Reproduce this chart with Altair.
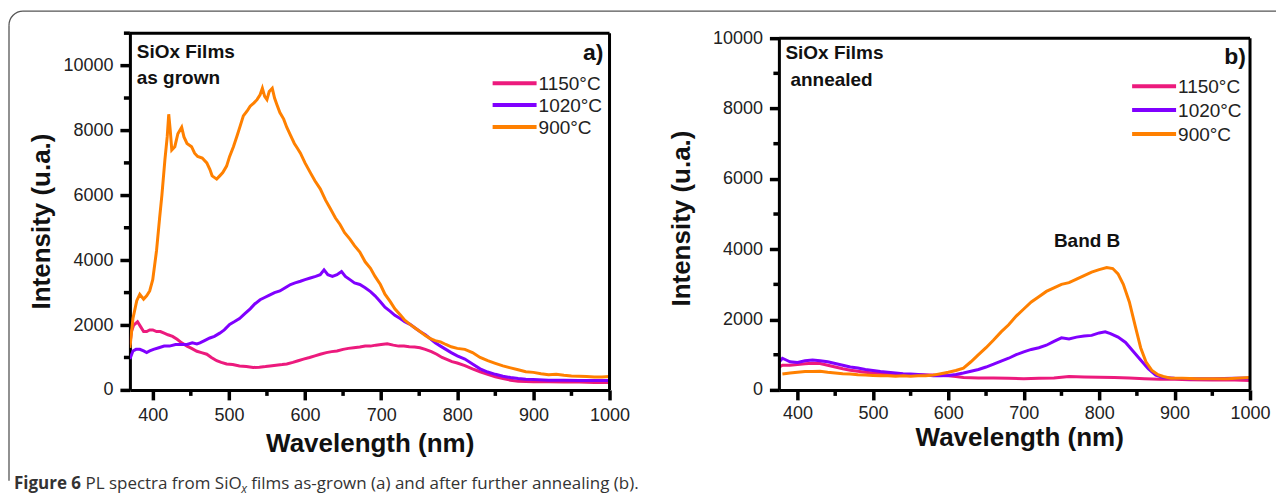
import math
import altair as alt
import pandas as pd

TEMPS = ["1150°C", "1020°C", "900°C"]
COLORS = ["#EC1A7D", "#8000FF", "#FF8000"]
FONT = "Liberation Sans"
X_MAJOR = list(range(400, 1001, 100))
X_MINOR = list(range(450, 1000, 100))
Y_MAJOR_A = list(range(0, 10001, 2000))
Y_MINOR_A = list(range(1000, 11001, 2000))
Y_MAJOR_B = list(range(0, 10001, 2000))
Y_MINOR_B = list(range(1000, 10000, 2000))

# ---------------- panel a) as grown ----------------
a_wl_1150 = [370, 372, 375, 380, 384, 388, 392, 396, 400, 405, 410, 415, 420, 426, 432, 438, 445, 451, 458, 464,
             471, 477, 484, 490, 497, 505, 514, 523, 532, 540, 548, 554, 562, 570, 576, 584, 591, 598, 606, 613,
             620, 628, 635, 642, 650, 657, 664, 672, 679, 686, 693, 700, 708, 716, 723, 730, 737, 744, 751, 758,
             766, 773, 780, 787, 793, 800, 810, 820, 830, 840, 850, 860, 870, 880, 890, 900, 920, 940, 960, 980, 1000]
a_int_1150 = [1400, 1800, 2000, 2100, 1950, 1800, 1800, 1850, 1850, 1800, 1800, 1750, 1700, 1650, 1560, 1450, 1350, 1280, 1190, 1150,
              1100, 1000, 900, 850, 800, 780, 740, 720, 690, 700, 720, 740, 760, 780, 800, 850, 900, 950, 1000, 1050,
              1100, 1150, 1180, 1200, 1250, 1280, 1300, 1320, 1350, 1350, 1380, 1400, 1420, 1380, 1350, 1350, 1330, 1320, 1300, 1250,
              1180, 1100, 1000, 930, 870, 830, 750, 650, 560, 480, 400, 350, 300, 270, 260, 250, 250, 240, 240, 230, 230]

a_wl_1020 = [370, 374, 378, 383, 388, 392, 396, 401, 408, 415, 422, 430, 437, 445, 452, 458, 462, 468, 475, 481,
             488, 494, 501, 507, 514, 521, 528, 534, 541, 547, 554, 560, 567, 574, 581, 587, 594, 600, 607, 614,
             620, 625, 630, 636, 642, 648, 653, 659, 665, 672, 679, 686, 692, 699, 705, 712, 718, 725, 731, 738,
             745, 751, 758, 764, 771, 778, 785, 792, 800, 810, 820, 830, 840, 850, 860, 870, 880, 890, 900, 920,
             940, 960, 980, 1000]
a_int_1020 = [950, 1200, 1250, 1250, 1200, 1150, 1200, 1250, 1300, 1350, 1350, 1400, 1400, 1400, 1450, 1420, 1450, 1520, 1600, 1650,
              1750, 1850, 2020, 2100, 2200, 2350, 2500, 2650, 2780, 2850, 2930, 3000, 3050, 3150, 3250, 3300, 3350, 3400, 3450, 3500,
              3550, 3700, 3550, 3500, 3550, 3650, 3500, 3400, 3300, 3250, 3150, 3030, 2900, 2720, 2550, 2420, 2300, 2200, 2100, 2020,
              1900, 1800, 1700, 1590, 1450, 1350, 1250, 1150, 1050, 950, 800, 650, 550, 480, 420, 380, 350, 330, 320, 300,
              300, 290, 290, 290]

a_wl_900 = [370, 374, 379, 383, 388, 392, 396, 400, 405, 409, 412, 416, 419, 421, 423, 425, 429, 433, 438, 441,
            445, 451, 455, 459, 465, 471, 475, 478, 484, 488, 492, 497, 501, 506, 511, 515, 519, 524, 528, 533,
            537, 541, 544, 547, 550, 553, 557, 560, 563, 567, 572, 576, 581, 586, 590, 594, 600, 607, 613, 620,
            627, 633, 640, 646, 652, 659, 665, 672, 679, 686, 692, 699, 705, 712, 718, 725, 731, 738, 745, 751,
            758, 764, 771, 778, 785, 792, 800, 810, 820, 830, 840, 850, 860, 870, 880, 890, 900, 910, 920, 930,
            940, 950, 960, 970, 980, 990, 1000]
a_int_900 = [1300, 2200, 2750, 2950, 2800, 2900, 3050, 3400, 4300, 5300, 6000, 7100, 7800, 8500, 8000, 7400, 7500, 7900, 8100, 7800,
             7600, 7500, 7300, 7200, 7150, 7000, 6800, 6600, 6500, 6600, 6700, 6900, 7200, 7500, 7850, 8150, 8450, 8600, 8750, 8850,
             8950, 9100, 9300, 9050, 8950, 9200, 9300, 9000, 8800, 8550, 8350, 8100, 7850, 7600, 7450, 7300, 7000, 6700, 6450, 6200,
             5850, 5600, 5300, 5100, 4850, 4650, 4450, 4250, 3950, 3750, 3500, 3250, 2950, 2720, 2500, 2320, 2150, 2020, 1900, 1800,
             1680, 1590, 1520, 1480, 1400, 1330, 1280, 1250, 1150, 1000, 900, 820, 740, 680, 620, 560, 540, 500, 470, 480,
             450, 430, 420, 410, 400, 400, 410]

# ---------------- panel b) annealed ----------------
b_wl_1150 = [376, 380, 390, 400, 410, 420, 430, 440, 450, 460, 470, 480, 490, 500, 520, 540, 560, 580, 600, 610,
             620, 640, 660, 680, 700, 720, 740, 760, 780, 800, 820, 840, 860, 880, 900, 920, 950, 980, 1000]
b_int_1150 = [650, 700, 700, 720, 740, 760, 750, 700, 650, 600, 560, 530, 500, 480, 460, 440, 430, 420, 400, 380,
              350, 340, 340, 330, 320, 330, 340, 380, 370, 360, 350, 340, 320, 300, 300, 290, 280, 280, 270]

b_wl_1020 = [376, 380, 385, 390, 400, 410, 420, 430, 440, 450, 460, 470, 480, 490, 500, 510, 520, 530, 540, 550,
             560, 570, 580, 590, 600, 610, 620, 630, 640, 650, 660, 670, 680, 690, 700, 710, 720, 730, 740, 750,
             760, 770, 780, 790, 800, 808, 815, 825, 835, 845, 855, 865, 875, 885, 900, 920, 950, 980, 1000]
b_int_1020 = [800, 900, 850, 800, 780, 830, 850, 830, 800, 750, 700, 650, 620, 580, 550, 520, 500, 480, 460, 450,
              440, 420, 400, 400, 410, 440, 480, 530, 580, 650, 730, 820, 900, 1000, 1080, 1150, 1200, 1270, 1380, 1480,
              1450, 1500, 1530, 1550, 1620, 1650, 1600, 1500, 1350, 1100, 850, 600, 420, 350, 330, 320, 320, 330, 340]

b_wl_900 = [380, 390, 400, 410, 420, 430, 440, 450, 460, 470, 480, 490, 500, 510, 520, 530, 540, 550, 560, 570,
            580, 590, 600, 610, 620, 630, 640, 650, 660, 670, 680, 690, 700, 710, 720, 730, 740, 750, 760, 770,
            780, 790, 800, 810, 818, 825, 832, 840, 848, 855, 862, 870, 878, 885, 895, 910, 930, 950, 970, 1000]
b_int_900 = [450, 480, 500, 520, 520, 530, 500, 480, 460, 450, 430, 420, 410, 400, 400, 390, 400, 390, 400, 400,
             420, 460, 500, 550, 620, 800, 1000, 1200, 1420, 1650, 1850, 2100, 2300, 2500, 2650, 2800, 2900, 3000, 3050, 3150,
             3250, 3350, 3420, 3480, 3450, 3300, 3000, 2500, 1800, 1200, 800, 550, 430, 380, 330, 330, 320, 320, 320, 350]


def long_df(wls, vals):
    rows = []
    for t, w, v in zip(TEMPS, wls, vals):
        rows += [{"wl": a, "intensity": b, "temp": t} for a, b in zip(w, v)]
    return pd.DataFrame(rows)


df_a = long_df([a_wl_1150, a_wl_1020, a_wl_900], [a_int_1150, a_int_1020, a_int_900])
df_b = long_df([b_wl_1150, b_wl_1020, b_wl_900], [b_int_1150, b_int_1020, b_int_900])

COLOR = alt.Color("temp:N", scale=alt.Scale(domain=TEMPS, range=COLORS), legend=None)
ONE = pd.DataFrame({"k": [0]})

AX = dict(domainColor="black", domainWidth=3, ticks=True, tickColor="black", tickWidth=3.5, tickSize=10,
          labelFont=FONT, labelFontSize=18, labelColor="#222", titleFont=FONT,
          titleFontSize=26, titleFontWeight="bold", titleColor="#111", grid=False,
          labelOverlap=False, labelFlush=False, format="d")


def x_axis(title_y, label_pad):
    return alt.Axis(values=X_MAJOR, labelPadding=label_pad, title="Wavelength (nm)", titleX=240,
                    titleY=title_y, titleAlign="center", titleBaseline="middle", titleAngle=0, **AX)


def y_axis(ticks, title_x, title_y, domain=True):
    return alt.Axis(values=ticks, labelPadding=7, title="Intensity (u.a.)", titleX=title_x,
                    titleY=title_y, titleAngle=270, titleAlign="center", titleBaseline="middle",
                    domain=domain, **AX)


def minor_ticks(xvals, yvals, xs, ys, height):
    tx = alt.Chart(pd.DataFrame({"t": xvals})).mark_rule(color="black", strokeWidth=3.5).encode(
        x=alt.X("t:Q", scale=xs), y=alt.value(height), y2=alt.value(height + 6))
    ty = alt.Chart(pd.DataFrame({"t": yvals})).mark_rule(color="black", strokeWidth=3.5).encode(
        y=alt.Y("t:Q", scale=ys), x=alt.value(0), x2=alt.value(-6))
    return [tx, ty]


def note(text, x, y, size=19, align="left", weight="bold"):
    return alt.Chart(ONE).mark_text(
        text=text, align=align, baseline="alphabetic", font=FONT, fontSize=size,
        fontWeight=weight, color="#111").encode(x=alt.datum(x), y=alt.datum(y))


def legend_layers(x0, y0, step):
    out = []
    for i, (t, c) in enumerate(zip(TEMPS, COLORS)):
        yy = y0 + i * step
        out.append(alt.Chart(ONE).mark_rule(color=c, strokeWidth=4).encode(
            x=alt.value(x0), x2=alt.value(x0 + 44), y=alt.value(yy)))
        out.append(alt.Chart(ONE).mark_text(
            text=t, align="left", baseline="middle", font=FONT, fontSize=19, color="#222").encode(
            x=alt.value(x0 + 46), y=alt.value(yy + 1)))
    return out


def frame_layer(x0, x1, ytop, xs, ys, left=False):
    rows = [{"x": x0, "x2": x1, "y": ytop, "y2": ytop}, {"x": x1, "x2": x1, "y": 0, "y2": ytop}]
    if left:
        rows.append({"x": x0, "x2": x0, "y": 0, "y2": ytop})
    return alt.Chart(pd.DataFrame(rows)).mark_rule(color="black", strokeWidth=3).encode(
        x=alt.X("x:Q", scale=xs), x2="x2:Q", y=alt.Y("y:Q", scale=ys), y2="y2:Q")


# ---------- left panel ----------
XS_A = alt.Scale(domain=[370, 1000], nice=False, zero=False)
YS_A = alt.Scale(domain=[0, 11000], nice=False)

lines_a = alt.Chart(df_a).mark_line(strokeWidth=3, clip=True).encode(
    x=alt.X("wl:Q", scale=XS_A, axis=x_axis(54, 7)),
    y=alt.Y("intensity:Q", scale=YS_A, axis=y_axis(Y_MAJOR_A, -88, 188)),
    color=COLOR, order=alt.Order("wl:Q"))

BC = "#555555"
R = 14
BX, BY = -121, -22
border = [
    alt.Chart(ONE).mark_rule(color=BC, strokeWidth=1.3).encode(
        x=alt.value(BX + R), x2=alt.value(1147), y=alt.value(BY)),
    alt.Chart(ONE).mark_rule(color=BC, strokeWidth=1.3).encode(
        x=alt.value(BX), y=alt.value(BY + R), y2=alt.value(448)),
    alt.Chart(ONE).mark_arc(
        innerRadius=R - 0.65, outerRadius=R + 0.65, theta=1.5 * math.pi, theta2=2 * math.pi,
        color=BC).encode(x=alt.value(BX + R), y=alt.value(BY + R)),
]

CAP_Y = 451
CF = "Open Sans"
CS = 17
caption = [
    alt.Chart(ONE).mark_text(
        text="Figure 6", align="left", baseline="middle", font=CF, fontSize=CS,
        fontWeight="bold", color="#333").encode(x=alt.value(-116), y=alt.value(CAP_Y)),
    alt.Chart(ONE).mark_text(
        text="PL spectra from SiO", align="left", baseline="middle", font=CF, fontSize=CS,
        color="#333").encode(x=alt.value(-44.5), y=alt.value(CAP_Y)),
    alt.Chart(ONE).mark_text(
        text="x", align="left", baseline="middle", font=CF, fontSize=12, fontStyle="italic",
        color="#333").encode(x=alt.value(111.5), y=alt.value(CAP_Y + 5)),
    alt.Chart(ONE).mark_text(
        text="films as-grown (a) and after further annealing (b).", align="left", baseline="middle",
        font=CF, fontSize=CS, color="#333").encode(x=alt.value(121.5), y=alt.value(CAP_Y)),
]

left = alt.layer(
    lines_a,
    *minor_ticks(X_MINOR, Y_MINOR_A, XS_A, YS_A, 357),
    frame_layer(370, 1000, 11000, XS_A, YS_A),
    note("SiOx Films", 379, 10231, 19),
    note("as grown", 379, 9430, 19),
    note("a)", 992, 10170, 23, align="right"),
    *legend_layers(363, 50, 22),
    *border,
    *caption,
).properties(width=480, height=357)

# ---------- right panel ----------
XS_B = alt.Scale(domain=[376, 1000], nice=False, zero=False)
YS_B = alt.Scale(domain=[0, 10142], nice=False)

lines_b = alt.Chart(df_b).mark_line(strokeWidth=3, clip=True).encode(
    x=alt.X("wl:Q", scale=XS_B, axis=x_axis(48, 5)),
    y=alt.Y("intensity:Q", scale=YS_B, axis=y_axis(Y_MAJOR_B, -98, 185, domain=False)),
    color=COLOR, order=alt.Order("wl:Q"))

right = alt.layer(
    lines_b,
    *minor_ticks(X_MINOR, Y_MINOR_B, XS_B, YS_B, 357),
    frame_layer(376, 1000, 10000, XS_B, YS_B, left=True),
    note("SiOx Films", 384, 9403, 19),
    note("annealed", 390.6, 8636, 19),
    note("b)", 994.5, 9261, 23, align="right"),
    note("Band B", 784, 4062, 19, align="center"),
    *legend_layers(353, 53, 24),
).properties(width=471, height=357)

chart = alt.hconcat(left, right, spacing=170, bounds="flush").configure_view(
    stroke=None).properties(padding={"left": 0, "top": 2, "right": 0, "bottom": 4})

chart.save("out.html", embed_options={"renderer": "svg", "actions": False})
